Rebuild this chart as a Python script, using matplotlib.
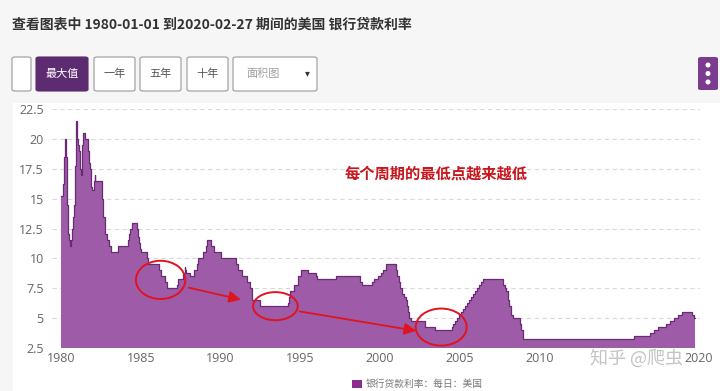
import matplotlib.pyplot as plt
import matplotlib.patches as mpatches
import numpy as np
import pandas as pd

# US bank prime loan rate, change dates and new rate (%)
change_dates = [
    "1980-01-01", "1980-02-19", "1980-02-22", "1980-02-29", "1980-03-04", "1980-03-07",
    "1980-03-14", "1980-03-19", "1980-03-28", "1980-04-02", "1980-04-18", "1980-05-01",
    "1980-05-07", "1980-05-16", "1980-05-23", "1980-05-30", "1980-06-06", "1980-06-13",
    "1980-06-20", "1980-07-07", "1980-07-25", "1980-08-22", "1980-08-27", "1980-09-08",
    "1980-09-12", "1980-09-19", "1980-09-26", "1980-10-01", "1980-10-17", "1980-10-29",
    "1980-11-06", "1980-11-17", "1980-11-21", "1980-11-26", "1980-12-02", "1980-12-05",
    "1980-12-10", "1980-12-16", "1980-12-19", "1981-01-02", "1981-01-09", "1981-02-03",
    "1981-02-23", "1981-03-10", "1981-03-17", "1981-04-02", "1981-04-24", "1981-05-01",
    "1981-05-04", "1981-05-08", "1981-05-19", "1981-05-22", "1981-07-08", "1981-09-15",
    "1981-09-21", "1981-10-05", "1981-10-13", "1981-11-03", "1981-11-09", "1981-11-17",
    "1981-11-20", "1981-12-01", "1982-02-02", "1982-02-18", "1982-02-23", "1982-07-20",
    "1982-07-29", "1982-08-02", "1982-08-16", "1982-08-18", "1982-08-23", "1982-10-07",
    "1982-10-14", "1982-11-22", "1983-01-11", "1983-02-28", "1983-08-08", "1984-03-19",
    "1984-04-05", "1984-05-08", "1984-06-25", "1984-09-27", "1984-10-17", "1984-10-29",
    "1984-11-09", "1984-11-28", "1984-12-20", "1985-01-15", "1985-05-20", "1985-06-18",
    "1986-03-07", "1986-04-21", "1986-07-11", "1986-08-26", "1987-04-01", "1987-05-01",
    "1987-05-15", "1987-09-04", "1987-10-07", "1987-10-22", "1987-11-05", "1988-02-02",
    "1988-05-11", "1988-07-14", "1988-08-11", "1988-11-28", "1989-02-10", "1989-02-24",
    "1989-06-05", "1989-07-31", "1990-01-08", "1991-01-02", "1991-02-04", "1991-05-01",
    "1991-09-13", "1991-11-06", "1991-12-23", "1992-07-02", "1994-03-24", "1994-04-19",
    "1994-05-17", "1994-08-16", "1994-11-15", "1995-02-01", "1995-07-07", "1995-12-20",
    "1996-02-01", "1997-03-26", "1998-09-30", "1998-10-16", "1998-11-18", "1999-07-01",
    "1999-08-25", "1999-11-17", "2000-02-03", "2000-03-22", "2000-05-17", "2001-01-04",
    "2001-02-01", "2001-03-21", "2001-04-19", "2001-05-16", "2001-06-28", "2001-08-22",
    "2001-09-18", "2001-10-03", "2001-11-07", "2001-12-12", "2002-11-07", "2003-06-27",
    "2004-07-01", "2004-08-11", "2004-09-22", "2004-11-11", "2004-12-15", "2005-02-03",
    "2005-03-23", "2005-05-04", "2005-07-01", "2005-08-10", "2005-09-21", "2005-11-02",
    "2005-12-14", "2006-02-01", "2006-03-29", "2006-05-11", "2006-06-29", "2007-09-19",
    "2007-11-01", "2007-12-12", "2008-01-22", "2008-01-31", "2008-03-19", "2008-05-01",
    "2008-10-09", "2008-10-30", "2008-12-17", "2015-12-17", "2016-12-15", "2017-03-16",
    "2017-06-15", "2017-12-14", "2018-03-22", "2018-06-14", "2018-09-27", "2018-12-20",
    "2019-08-01", "2019-09-19", "2019-10-15",
]
prime_rate = [
    15.25, 15.75, 16.25, 16.75, 17.25, 17.75,
    18.25, 18.5, 19.5, 20.0, 19.5, 18.5,
    17.5, 16.5, 14.5, 14.0, 13.0, 12.5,
    12.0, 11.5, 11.0, 11.25, 11.5, 12.0,
    12.25, 12.5, 13.0, 13.5, 14.0, 14.5,
    15.5, 16.25, 17.0, 17.75, 18.5, 19.0,
    20.0, 21.0, 21.5, 20.5, 20.0, 19.5,
    19.0, 18.0, 17.5, 17.0, 17.5, 18.0,
    19.0, 19.5, 20.0, 20.5, 20.0, 19.5,
    19.0, 18.0, 18.0, 17.5, 17.0, 16.5,
    16.0, 15.75, 16.5, 17.0, 16.5, 16.0,
    15.5, 15.0, 14.5, 14.0, 13.5, 13.0,
    12.0, 11.5, 11.0, 10.5, 11.0, 11.5,
    12.0, 12.5, 13.0, 12.75, 12.5, 12.0,
    11.75, 11.25, 10.75, 10.5, 10.0, 9.5,
    9.0, 8.5, 8.0, 7.5, 7.75, 8.0,
    8.25, 8.75, 9.25, 9.0, 8.75, 8.5,
    9.0, 9.5, 10.0, 10.5, 11.0, 11.5,
    11.0, 10.5, 10.0, 9.5, 9.0, 8.5,
    8.0, 7.5, 6.5, 6.0, 6.25, 6.75,
    7.25, 7.75, 8.5, 9.0, 8.75, 8.5,
    8.25, 8.5, 8.25, 8.0, 7.75, 8.0,
    8.25, 8.5, 8.75, 9.0, 9.5, 9.0,
    8.5, 8.0, 7.5, 7.0, 6.75, 6.5,
    6.0, 5.5, 5.0, 4.75, 4.25, 4.0,
    4.25, 4.5, 4.75, 5.0, 5.25, 5.5,
    5.75, 6.0, 6.25, 6.5, 6.75, 7.0,
    7.25, 7.5, 7.75, 8.0, 8.25, 7.75,
    7.5, 7.25, 6.5, 6.0, 5.25, 5.0,
    4.5, 4.0, 3.25, 3.5, 3.75, 4.0,
    4.25, 4.5, 4.75, 5.0, 5.25, 5.5,
    5.25, 5.0, 5.0,
]

x_ticks = [1980, 1985, 1990, 1995, 2000, 2005, 2010, 2015, 2020]
# 2015 sits under the watermark in the source, so leave it blank
x_tick_labels = ["1980", "1985", "1990", "1995", "2000", "2005", "2010", "", "2020"]
y_ticks = [2.5, 5, 7.5, 10, 12.5, 15, 17.5, 20, 22.5]

title = "查看图表中 1980-01-01 到2020-02-27 期间的美国 银行贷款利率"
note = "每个周期的最低点越来越低"
legend_label = "银行贷款利率：每日：美国"

# circles around the cycle lows: (center year, center value, width yrs, height)
low_circles = [(1986.25, 8.2, 3.1, 3.2), (1993.45, 6.0, 2.8, 2.35), (2003.85, 4.25, 3.2, 3.1)]
low_arrows = [((1987.85, 7.6), (1991.45, 6.5)), ((1994.8, 5.6), (2002.45, 3.9))]

plt.rcParams['font.family'] = ['Noto Sans CJK SC', 'DejaVu Sans']

W, H = 720, 391
fig = plt.figure(figsize=(W / 100, H / 100), dpi=100)
fig.patch.set_facecolor('#f6f6f6')


def fx(px):
    return px / W


def fy(py):
    return 1 - py / H


# white chart panel
fig.patches.append(mpatches.Rectangle((fx(13), 0), fx(707), fy(103), transform=fig.transFigure,
                                      facecolor='white', edgecolor='none', zorder=-10))

fig.text(fx(12), fy(25), title, fontsize=10, fontweight='bold', color='#333333', va='center', ha='left')

# toolbar buttons
buttons = [(12, 31, ""), (36, 88, "最大值"), (94, 135, "一年"), (140, 181, "五年"),
           (187, 228, "十年")]
for x0, x1, lab in buttons:
    active = lab == "最大值"
    fig.patches.append(mpatches.FancyBboxPatch(
        (fx(x0), fy(91)), fx(x1 - x0), fy(57) - fy(91), boxstyle="round,pad=0,rounding_size=0.004",
        transform=fig.transFigure, facecolor='#5d2c70' if active else 'white',
        edgecolor='#5d2c70' if active else '#9a9a9a', linewidth=0.8, zorder=1))
    if lab:
        fig.text(fx((x0 + x1) / 2), fy(74), lab, fontsize=8, ha='center', va='center',
                 color='white' if active else '#555555')
fig.patches.append(mpatches.FancyBboxPatch(
    (fx(233), fy(91)), fx(84), fy(57) - fy(91), boxstyle="round,pad=0,rounding_size=0.004",
    transform=fig.transFigure, facecolor='white', edgecolor='#9a9a9a', linewidth=0.8, zorder=1))
fig.text(fx(246), fy(74), "面积图", fontsize=8, ha='left', va='center', color='#a0a0a0')
fig.text(fx(307), fy(73), "▾", fontsize=7, ha='center', va='center', color='#333333',
         family='DejaVu Sans')
fig.patches.append(mpatches.FancyBboxPatch(
    (fx(698), fy(90)), fx(20), fy(57) - fy(90), boxstyle="round,pad=0,rounding_size=0.004",
    transform=fig.transFigure, facecolor='#7b3b8e', edgecolor='none', zorder=1))
for yy in (65, 73.5, 82):
    fig.patches.append(mpatches.Ellipse((fx(708), fy(yy)), fx(5), fy(0) - fy(5),
                                        transform=fig.transFigure, facecolor='white', zorder=2))

# main area chart
dates = pd.to_datetime(change_dates)
years = dates.year + (dates.dayofyear - 1) / 365.25
years = np.asarray(years, dtype=float)
rates = np.asarray(prime_rate, dtype=float)

ax = fig.add_axes([fx(52), fy(348), fx(648), fy(109) - fy(348)])
ax.set_facecolor('none')
ax.fill_between(years, rates, 2.5, step='post', color='#9e5ba7', linewidth=0, zorder=2)
ax.step(years, rates, where='post', color='#6a2a74', linewidth=0.9, zorder=3)

x_left = 1980 + (52 - 61) / 15.94
x_right = 1980 + (700 - 61) / 15.94
ax.set_xlim(x_left, x_right)
ax.set_ylim(2.5, 22.5)
ax.set_yticks(y_ticks)
ax.set_yticklabels([f"{v:g}" for v in y_ticks])
ax.set_xticks(x_ticks)
ax.set_xticklabels(x_tick_labels)
for lab in ax.get_xticklabels() + ax.get_yticklabels():
    lab.set_family(['Open Sans', 'DejaVu Sans'])
ax.tick_params(axis='both', length=0, labelsize=9, colors='#666666')
ax.tick_params(axis='y', pad=6)
ax.tick_params(axis='x', pad=3)
ax.grid(axis='y', color='#d9d9d9', linestyle=(0, (4, 3)), linewidth=0.8, zorder=1)
for s in ax.spines.values():
    s.set_visible(False)

# annotation overlay
ax.text(2003.5, 17.1, note, fontsize=11, fontweight='bold', color='#c8161d',
        ha='center', va='center', zorder=6)
for cx, cy, w, h in low_circles:
    ax.add_patch(mpatches.Ellipse((cx, cy), w, h, fill=False, edgecolor='#e0141e',
                                  linewidth=1.4, zorder=5))
for (x0, y0), (x1, y1) in low_arrows:
    ax.annotate("", xy=(x1, y1), xytext=(x0, y0),
                arrowprops=dict(arrowstyle='-|>,head_length=0.7,head_width=0.35',
                                color='#e0141e', linewidth=1.3), zorder=5)

# legend
fig.patches.append(mpatches.Rectangle((fx(352), fy(388)), fx(10), fy(380) - fy(388),
                                      transform=fig.transFigure, facecolor='#8e2b8e',
                                      edgecolor='none'))
fig.text(fx(366), fy(384), legend_label, fontsize=7, color='#777777', ha='left', va='center')

# watermark
fig.text(fx(590), fy(358), "知乎 @爬虫", fontsize=13, color='#c4c4c4', ha='left', va='center',
         zorder=10)

fig.savefig("out.png", dpi=100, facecolor=fig.get_facecolor())
